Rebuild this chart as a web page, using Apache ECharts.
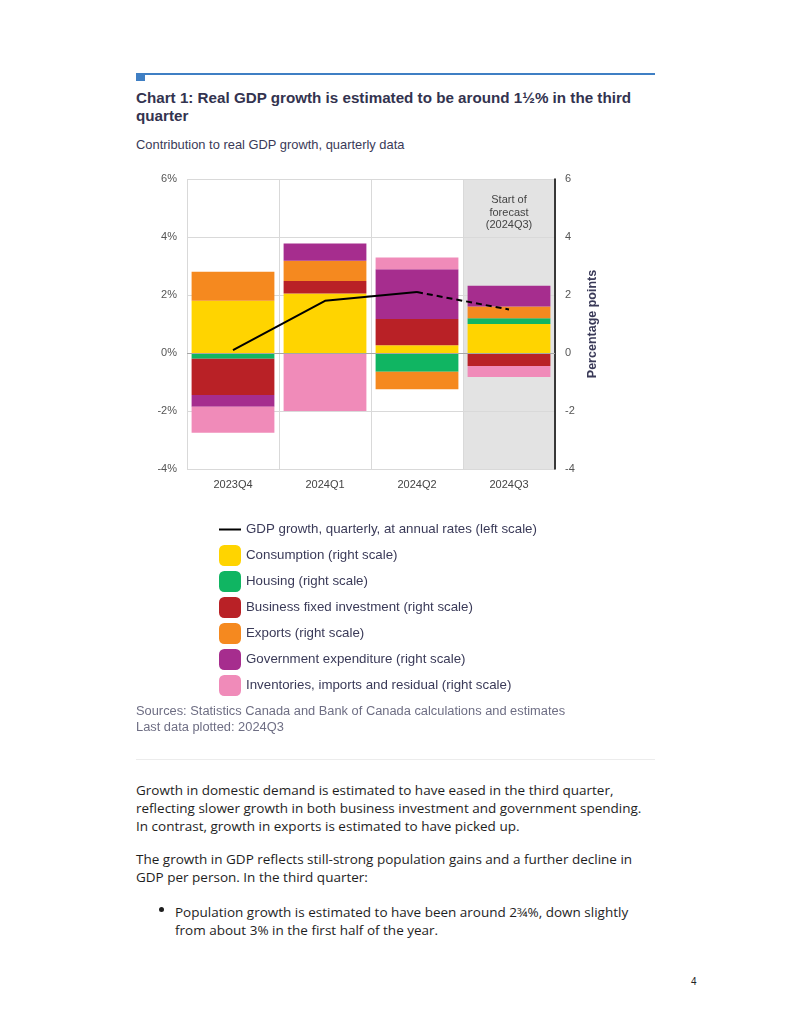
<!DOCTYPE html>
<html>
<head>
<meta charset="utf-8">
<script src="https://cdn.jsdelivr.net/npm/echarts@6/dist/echarts.min.js"></script>
<style>
  body { margin: 0; background: #fff; }
  #page { position: relative; width: 791px; height: 1024px; overflow: hidden; font-family: "Liberation Sans", Arial, sans-serif; }
  .abs { position: absolute; }
  #topline { left: 136px; top: 73px; width: 519px; height: 2px; background: #3f7fc4; }
  #topsq { left: 136px; top: 73px; width: 9px; height: 8px; background: #3f7fc4; }
  #title { left: 136px; top: 89px; width: 540px; font-size: 15.2px; line-height: 18px; font-weight: bold; color: #33334f; white-space: nowrap; }
  #subtitle { left: 136px; top: 137px; font-size: 12.9px; line-height: 16px; color: #3a3a58; white-space: nowrap; }
  #chart { left: 130px; top: 165px; width: 480px; height: 540px; }
  #sources { left: 136px; top: 703px; font-size: 12.85px; line-height: 16px; color: #6e6e84; white-space: nowrap; }
  #sep { left: 136px; top: 759px; width: 519px; height: 1px; background: #ececec; }
  .body { left: 136px; font-family: "Open Sans", sans-serif; font-size: 13.5px; line-height: 18px; color: #1e1e1e; white-space: nowrap; }
  #p1 { top: 781px; }
  #p2 { top: 850px; }
  #bullet { left: 159px; top: 907px; width: 5px; height: 5px; border-radius: 50%; background: #1e1e1e; }
  #p3 { left: 175px; top: 903px; }
  #pagenum { left: 691px; top: 976px; font-size: 10px; color: #222; }
</style>
</head>
<body>
<div id="page">
  <div class="abs" id="topline"></div>
  <div class="abs" id="topsq"></div>
  <div class="abs" id="title">Chart 1: Real GDP growth is estimated to be around 1½% in the third<br>quarter</div>
  <div class="abs" id="subtitle">Contribution to real GDP growth, quarterly data</div>
  <div class="abs" id="chart"></div>
  <div class="abs" id="sources">Sources: Statistics Canada and Bank of Canada calculations and estimates<br>Last data plotted: 2024Q3</div>
  <div class="abs" id="sep"></div>
  <div class="abs body" id="p1">Growth in domestic demand is estimated to have eased in the third quarter,<br>reflecting slower growth in both business investment and government spending.<br>In contrast, growth in exports is estimated to have picked up.</div>
  <div class="abs body" id="p2">The growth in GDP reflects still-strong population gains and a further decline in<br>GDP per person. In the third quarter:</div>
  <div class="abs" id="bullet"></div>
  <div class="abs body" id="p3">Population growth is estimated to have been around 2¾%, down slightly<br>from about 3% in the first half of the year.</div>
  <div class="abs" id="pagenum">4</div>
</div>
<script>
// ---- Data ----
const categories = ['2023Q4', '2024Q1', '2024Q2', '2024Q3'];
const gdpGrowth = [0.1, 1.8, 2.1, 1.5];          // left scale, %
const forecastStartIndex = 2;                      // dashed segment starts here
const consumption = [1.8, 2.05, 0.27, 1.0];
const housing = [-0.2, 0, -0.65, 0.2];
const businessInvestment = [-1.25, 0.43, 0.9, -0.45];
const exportsData = [1.0, 0.7, -0.6, 0.4];
const government = [-0.4, 0.6, 1.72, 0.72];
const inventories = [-0.9, -2.0, 0.4, -0.38];
const forecastCategory = '2024Q3';
const forecastLabel = 'Start of\nforecast\n(2024Q3)';
const axisMin = -4, axisMax = 6, axisStep = 2;

const names = {
  gdp: 'GDP growth, quarterly, at annual rates (left scale)',
  cons: 'Consumption (right scale)',
  hous: 'Housing (right scale)',
  bfi: 'Business fixed investment (right scale)',
  exp: 'Exports (right scale)',
  gov: 'Government expenditure (right scale)',
  inv: 'Inventories, imports and residual (right scale)'
};
const colors = {
  cons: '#FFD400', hous: '#10B562', bfi: '#B92126',
  exp: '#F5891F', gov: '#A62D8E', inv: '#F08BB9'
};

const gdpSolid = gdpGrowth.map((v, i) => (i <= forecastStartIndex ? v : null));
const gdpDashed = gdpGrowth.map((v, i) => (i >= forecastStartIndex ? v : null));
const shadeTop = categories.map(c => (c === forecastCategory ? axisMax : null));
const shadeBottom = categories.map(c => (c === forecastCategory ? axisMin : null));

function barSeries(key, data, extra) {
  return Object.assign({
    name: names[key], type: 'bar', stack: 'contrib', xAxisIndex: 0, yAxisIndex: 1,
    barWidth: '90%', data: data, itemStyle: { color: colors[key] },
    emphasis: { disabled: true }
  }, extra || {});
}

const lineIcon = 'path://M0,0L0,0M0,9.5L22,9.5L22,11.5L0,11.5ZM22,21L22,21';

const chart = echarts.init(document.getElementById('chart'), null, { renderer: 'canvas' });
const font = '"Liberation Sans", Arial, sans-serif';
chart.setOption({
  animation: false,
  textStyle: { fontFamily: font },
  grid: { left: 57, top: 14, width: 368, height: 290 },
  xAxis: [
    {
      type: 'category', data: categories, boundaryGap: true,
      axisLine: { show: false }, axisTick: { show: false },
      axisLabel: { color: '#444', fontSize: 11, margin: 10 },
      splitLine: { show: true, lineStyle: { color: '#d9d9d9', width: 1 } }
    },
    { type: 'category', data: categories, show: false, boundaryGap: true }
  ],
  yAxis: [
    {
      type: 'value', min: axisMin, max: axisMax, interval: axisStep, position: 'left',
      axisLine: { show: false }, axisTick: { show: false },
      axisLabel: { color: '#555', fontSize: 11, margin: 10, formatter: v => v + '%' },
      splitLine: { show: true, lineStyle: { color: '#d9d9d9', width: 1 } }
    },
    {
      type: 'value', min: axisMin, max: axisMax, interval: axisStep, position: 'right',
      axisLine: { show: true, lineStyle: { color: '#000', width: 1.5 } }, axisTick: { show: false },
      axisLabel: { color: '#555', fontSize: 11, margin: 10 },
      splitLine: { show: false },
      name: 'Percentage points', nameLocation: 'middle', nameRotate: 90, nameGap: 28,
      nameTextStyle: { color: '#3a3a58', fontSize: 12.5, fontWeight: 'bold' }
    }
  ],
  legend: {
    orient: 'vertical', left: 89, top: 354, padding: 0, itemWidth: 22, itemHeight: 21, itemGap: 5,
    textStyle: { color: '#3a3a58', fontSize: 13.3 }, selectedMode: false,
    data: [
      { name: names.gdp, icon: lineIcon, itemStyle: { color: '#000' } },
      { name: names.cons, icon: 'roundRect' },
      { name: names.hous, icon: 'roundRect' },
      { name: names.bfi, icon: 'roundRect' },
      { name: names.exp, icon: 'roundRect' },
      { name: names.gov, icon: 'roundRect' },
      { name: names.inv, icon: 'roundRect' }
    ]
  },
  series: [
    {
      name: 'shadeTop', type: 'bar', xAxisIndex: 1, yAxisIndex: 1, stack: 'shade', barWidth: '100%',
      z: -1, silent: true, data: shadeTop, itemStyle: { color: '#e3e3e3' },
      label: {
        show: true, position: 'insideTop', distance: 15, formatter: forecastLabel,
        color: '#444', fontSize: 11, lineHeight: 12.5, align: 'center'
      }
    },
    {
      name: 'shadeBottom', type: 'bar', xAxisIndex: 1, yAxisIndex: 1, stack: 'shade', barWidth: '100%',
      z: -1, silent: true, data: shadeBottom, itemStyle: { color: '#e3e3e3' }
    },
    barSeries('cons', consumption, {
      markLine: {
        silent: true, symbol: 'none', label: { show: false },
        lineStyle: { color: '#a6a6a6', width: 1, type: 'solid' },
        data: [{ yAxis: 0 }]
      }
    }),
    barSeries('hous', housing),
    barSeries('bfi', businessInvestment),
    barSeries('exp', exportsData),
    barSeries('gov', government),
    barSeries('inv', inventories),
    {
      name: names.gdp, type: 'line', xAxisIndex: 0, yAxisIndex: 0, data: gdpSolid,
      symbol: 'none', z: 5, lineStyle: { color: '#000', width: 2 }, itemStyle: { color: '#000' }
    },
    {
      name: 'gdpForecast', type: 'line', xAxisIndex: 0, yAxisIndex: 0, data: gdpDashed,
      symbol: 'none', z: 5, lineStyle: { color: '#000', width: 2, type: [6, 4] }, itemStyle: { color: '#000' }
    }
  ]
});
</script>
</body>
</html>
